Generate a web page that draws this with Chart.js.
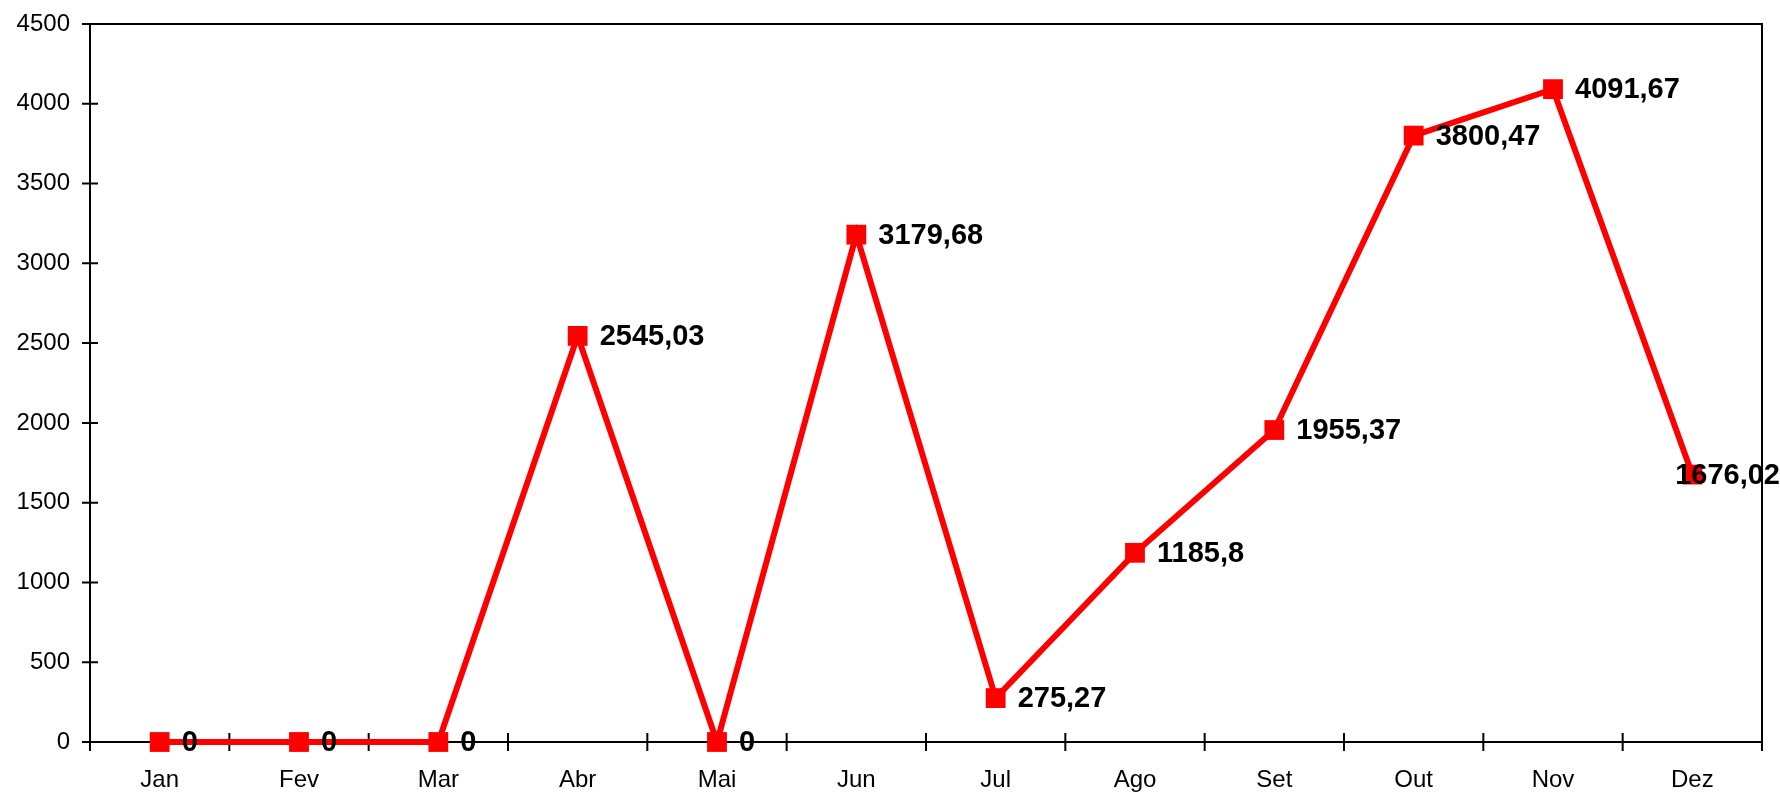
<!DOCTYPE html>
<html>
<head>
<meta charset="utf-8">
<script src="https://cdn.jsdelivr.net/npm/chart.js@4/dist/chart.umd.min.js"></script>
<style>
  html, body { margin: 0; padding: 0; background: #fff; }
  #wrap { width: 1780px; height: 793px; }
</style>
</head>
<body>
<div id="wrap"><canvas id="lineChart" width="1780" height="793"></canvas></div>
<script>
const months = ["Jan", "Fev", "Mar", "Abr", "Mai", "Jun", "Jul", "Ago", "Set", "Out", "Nov", "Dez"];
const values = [0, 0, 0, 2545.03, 0, 3179.68, 275.27, 1185.8, 1955.37, 3800.47, 4091.67, 1676.02];
const yMin = 0;
const yMax = 4500;
const yStep = 500;

// axes frame with crossing tick marks, drawn under the line
const framePlugin = {
  id: "frame",
  beforeDatasetsDraw(chart) {
    const ctx = chart.ctx;
    const area = chart.chartArea;
    const x = chart.scales.x;
    const y = chart.scales.y;
    ctx.save();
    ctx.strokeStyle = "#000";
    ctx.lineWidth = 2;
    ctx.beginPath();
    ctx.rect(area.left, area.top, area.right - area.left, area.bottom - area.top);
    ctx.stroke();

    ctx.beginPath();
    y.ticks.forEach(t => {
      const py = y.getPixelForValue(t.value);
      ctx.moveTo(area.left - 8, py);
      ctx.lineTo(area.left + 8, py);
    });
    for (let i = 0; i <= months.length; i++) {
      const px = x.getPixelForValue(i - 0.5);
      ctx.moveTo(px, area.bottom - 9);
      ctx.lineTo(px, area.bottom + 9);
    }
    ctx.stroke();
    ctx.restore();
  }
};

// value labels to the right of each point
const valueLabels = {
  id: "valueLabels",
  afterDatasetsDraw(chart) {
    const ctx = chart.ctx;
    const meta = chart.getDatasetMeta(0);
    ctx.save();
    ctx.font = "bold 29px 'Liberation Sans', Arial, sans-serif";
    ctx.fillStyle = "#000";
    ctx.textBaseline = "middle";
    ctx.textAlign = "left";
    meta.data.forEach((pt, i) => {
      const text = String(values[i]).replace(".", ",");
      const w = ctx.measureText(text).width;
      let tx = pt.x + 22;
      if (tx + w > chart.width) tx = chart.width - w;
      ctx.fillText(text, tx, pt.y + 1);
    });
    ctx.restore();
  }
};

new Chart(document.getElementById("lineChart").getContext("2d"), {
  type: "line",
  data: {
    labels: months,
    datasets: [{
      data: values,
      borderColor: "#ff0000",
      backgroundColor: "#ff0000",
      borderWidth: 6,
      pointStyle: "rect",
      pointRadius: 14,
      pointHoverRadius: 14,
      pointBorderWidth: 0,
      tension: 0,
      clip: false
    }]
  },
  options: {
    responsive: false,
    animation: false,
    events: [],
    layout: { padding: { top: 24, right: 18, left: 0, bottom: 0 } },
    plugins: {
      legend: { display: false },
      tooltip: { enabled: false }
    },
    scales: {
      x: {
        offset: true,
        grid: { display: false, drawTicks: false },
        border: { display: false },
        ticks: {
          color: "#000",
          padding: 24,
          maxRotation: 0,
          font: { family: "'Liberation Sans', Arial, sans-serif", size: 24 }
        },
        afterFit(scale) {
          scale.height = 51;
          scale.paddingLeft = 0;
          scale.paddingRight = 0;
        }
      },
      y: {
        min: yMin,
        max: yMax,
        grid: { display: false, drawTicks: false },
        border: { display: false },
        ticks: {
          stepSize: yStep,
          color: "#000",
          padding: 20,
          callback: v => String(v),
          font: { family: "'Liberation Sans', Arial, sans-serif", size: 24 }
        },
        afterFit(scale) {
          scale.width = 90;
          scale.paddingTop = 0;
          scale.paddingBottom = 0;
        }
      }
    }
  },
  plugins: [framePlugin, valueLabels]
});
</script>
</body>
</html>
